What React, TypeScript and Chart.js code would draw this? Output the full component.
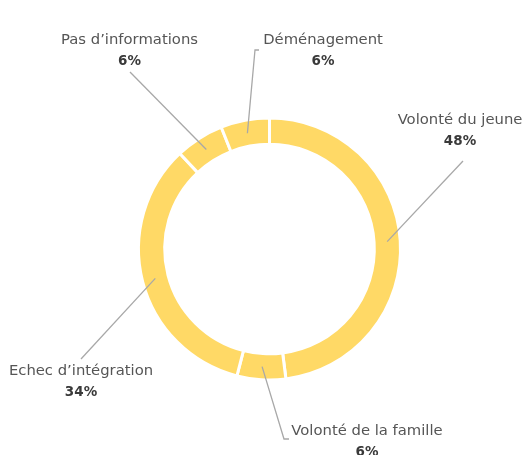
import React, { useEffect, useRef } from "react";
import { Chart, registerables } from "chart.js";

Chart.register(...registerables);

const categories = [
  "Volonté du jeune",
  "Volonté de la famille",
  "Echec d’intégration",
  "Pas d’informations",
  "Déménagement",
];
const values = [48, 6, 34, 6, 6];
const percentLabels = ["48%", "6%", "34%", "6%", "6%"];

// label layout, offsets from chart centre (px)
// [lineEndDx, lineEndDy, hookDx, textDx, textDy]
const labelLayout: number[][] = [
  [193.5, -88, 0, 190.5, -129],
  [14.5, 190, 5, 97.5, 182],
  [-188.5, 110, 0, -188.5, 122],
  [-139.5, -177, 0, -140, -209],
  [-14.5, -199, 4, 53.5, -209],
];

const FONT = "'DejaVu Sans', sans-serif";

const labelPlugin = {
  id: "outerLabels",
  afterDraw(chart: any) {
    const ctx = chart.ctx;
    const meta = chart.getDatasetMeta(0);
    const first = meta.data[0];
    const cx = first.x;
    const cy = first.y;
    meta.data.forEach((arc: any, i: number) => {
      const mid = (arc.startAngle + arc.endAngle) / 2;
      const r = (arc.innerRadius + arc.outerRadius) / 2;
      const sx = cx + Math.cos(mid) * r;
      const sy = cy + Math.sin(mid) * r;
      const [ex, ey, hook, tx, ty] = labelLayout[i];
      ctx.save();
      ctx.strokeStyle = "#a8a8a8";
      ctx.lineWidth = 1.3;
      ctx.beginPath();
      ctx.moveTo(sx, sy);
      ctx.lineTo(cx + ex, cy + ey);
      if (hook) ctx.lineTo(cx + ex + hook, cy + ey);
      ctx.stroke();
      ctx.textAlign = "center";
      ctx.textBaseline = "middle";
      ctx.fillStyle = "#555555";
      ctx.font = `14.8px ${FONT}`;
      ctx.fillText(categories[i], cx + tx, cy + ty);
      ctx.fillStyle = "#3a3a3a";
      ctx.font = `bold 13.5px ${FONT}`;
      ctx.fillText(percentLabels[i], cx + tx, cy + ty + 21);
      ctx.restore();
    });
  },
};

export default function App() {
  const ref = useRef<HTMLCanvasElement>(null);
  useEffect(() => {
    if (!ref.current) return;
    const chart = new Chart(ref.current, {
      type: "doughnut",
      data: {
        labels: categories,
        datasets: [
          {
            data: values,
            backgroundColor: "#FFD966",
            borderColor: "#ffffff",
            borderWidth: 3,
            hoverOffset: 0,
          },
        ],
      },
      options: {
        animation: false,
        responsive: false,
        cutout: "80%",
        rotation: 0,
        layout: { padding: { left: 137, right: 123, top: 116, bottom: 73 } },
        plugins: {
          legend: { display: false },
          tooltip: { enabled: false },
        },
      },
      plugins: [labelPlugin],
    });
    return () => chart.destroy();
  }, []);
  return (
    <div style={{ position: "fixed", left: 0, top: 0, width: 525, height: 455, background: "#fff" }}>
      <canvas ref={ref} width={525} height={455} style={{ width: 525, height: 455 }} />
    </div>
  );
}
